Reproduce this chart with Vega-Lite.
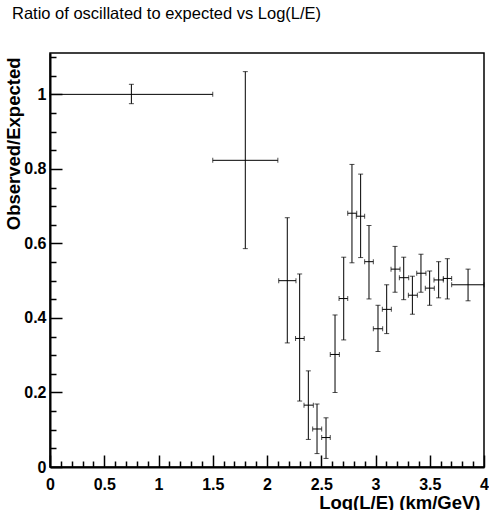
{
  "$schema": "https://vega.github.io/schema/vega-lite/v6.json",
  "width": 434,
  "height": 414,
  "autosize": {"type": "none"},
  "padding": {"left": 50, "top": 53, "right": 5, "bottom": 43},
  "background": "white",
  "title": {
    "text": "Ratio of oscillated to expected vs Log(L/E)",
    "anchor": "start",
    "frame": "group",
    "dx": -38,
    "offset": 27,
    "font": "Liberation Sans",
    "fontSize": 16.5,
    "fontWeight": "normal",
    "color": "black"
  },
  "config": {
    "view": {"stroke": "black", "strokeWidth": 1.5},
    "axis": {
      "domainColor": "black",
      "domainWidth": 2,
      "ticks": true,
      "tickColor": "black",
      "tickWidth": 1.5,
      "tickOpacity": 1,
      "grid": false,
      "labelFont": "Liberation Sans",
      "labelFontWeight": "bold",
      "labelFontSize": 16,
      "labelColor": "black",
      "titleFont": "Liberation Sans",
      "titleFontWeight": "bold",
      "titleFontSize": 18.5,
      "titleColor": "black",
      "labelOverlap": false,
      "labelFlush": false,
      "labelBound": false
    }
  },
  "data": {
    "values": [
      {"x": 0.75, "xlo": 0.0, "xhi": 1.5, "y": 1.0, "ylo": 0.975, "yhi": 1.027},
      {"x": 1.8, "xlo": 1.5, "xhi": 2.1, "y": 0.823, "ylo": 0.586, "yhi": 1.061},
      {"x": 2.187, "xlo": 2.108, "xhi": 2.267, "y": 0.5, "ylo": 0.333, "yhi": 0.669},
      {"x": 2.301, "xlo": 2.263, "xhi": 2.343, "y": 0.345, "ylo": 0.177, "yhi": 0.518},
      {"x": 2.381, "xlo": 2.341, "xhi": 2.427, "y": 0.166, "ylo": 0.074, "yhi": 0.258},
      {"x": 2.461, "xlo": 2.421, "xhi": 2.504, "y": 0.102, "ylo": 0.036, "yhi": 0.169},
      {"x": 2.544, "xlo": 2.504, "xhi": 2.583, "y": 0.079, "ylo": 0.023, "yhi": 0.132},
      {"x": 2.627, "xlo": 2.583, "xhi": 2.667, "y": 0.302, "ylo": 0.2, "yhi": 0.408},
      {"x": 2.707, "xlo": 2.664, "xhi": 2.744, "y": 0.452, "ylo": 0.341, "yhi": 0.563},
      {"x": 2.783, "xlo": 2.744, "xhi": 2.827, "y": 0.681, "ylo": 0.548, "yhi": 0.812},
      {"x": 2.863, "xlo": 2.823, "xhi": 2.9, "y": 0.673, "ylo": 0.562, "yhi": 0.786},
      {"x": 2.94, "xlo": 2.9, "xhi": 2.98, "y": 0.551, "ylo": 0.451, "yhi": 0.648},
      {"x": 3.023, "xlo": 2.98, "xhi": 3.066, "y": 0.371, "ylo": 0.31, "yhi": 0.434},
      {"x": 3.103, "xlo": 3.063, "xhi": 3.146, "y": 0.423, "ylo": 0.358, "yhi": 0.489},
      {"x": 3.18, "xlo": 3.143, "xhi": 3.226, "y": 0.531, "ylo": 0.469, "yhi": 0.592},
      {"x": 3.26, "xlo": 3.22, "xhi": 3.306, "y": 0.508, "ylo": 0.449, "yhi": 0.563},
      {"x": 3.34, "xlo": 3.303, "xhi": 3.386, "y": 0.461, "ylo": 0.41, "yhi": 0.512},
      {"x": 3.419, "xlo": 3.38, "xhi": 3.465, "y": 0.52, "ylo": 0.469, "yhi": 0.571},
      {"x": 3.499, "xlo": 3.459, "xhi": 3.542, "y": 0.48, "ylo": 0.434, "yhi": 0.526},
      {"x": 3.582, "xlo": 3.539, "xhi": 3.625, "y": 0.502, "ylo": 0.454, "yhi": 0.551},
      {"x": 3.662, "xlo": 3.625, "xhi": 3.702, "y": 0.506, "ylo": 0.451, "yhi": 0.559},
      {"x": 3.853, "xlo": 3.702, "xhi": 4.0, "y": 0.489, "ylo": 0.446, "yhi": 0.531}
    ]
  },
  "encoding": {
    "x": {
      "type": "quantitative",
      "scale": {"domain": [0, 4], "nice": false, "zero": false},
      "axis": {
        "title": "Log(L/E) (km/GeV)",
        "values": [0,0.1,0.2,0.3,0.4,0.5,0.6,0.7,0.8,0.9,1,1.1,1.2,1.3,1.4,1.5,1.6,1.7,1.8,1.9,2,2.1,2.2,2.3,2.4,2.5,2.6,2.7,2.8,2.9,3,3.1,3.2,3.3,3.4,3.5,3.6,3.7,3.8,3.9,4],
        "tickSize": -12,
        "tickDash": {"condition": {"test": "abs(round(datum.value*2) - datum.value*2) < 1e-6", "value": [20, 1]}, "value": [6, 20]},
        "labelExpr": "abs(round(datum.value*2) - datum.value*2) < 1e-6 ? format(datum.value, '~g') : ''",
        "labelOverlap": false,
        "labelPadding": 21,
        "labelBaseline": "top",
        "titleX": 430,
        "titleY": 41,
        "titleAlign": "right",
        "titleBaseline": "alphabetic",
        "titleAnchor": "end"
      }
    },
    "y": {
      "type": "quantitative",
      "scale": {"domain": [0, 1.111], "nice": false, "zero": false},
      "axis": {
        "title": "Observed/Expected",
        "values": [0,0.05,0.1,0.15,0.2,0.25,0.3,0.35,0.4,0.45,0.5,0.55,0.6,0.65,0.7,0.75,0.8,0.85,0.9,0.95,1,1.05,1.1],
        "tickSize": -12,
        "tickDash": {"condition": {"test": "abs(round(datum.value*5) - datum.value*5) < 1e-6", "value": [20, 1]}, "value": [6, 20]},
        "labelExpr": "abs(round(datum.value*5) - datum.value*5) < 1e-6 ? format(datum.value, '~g') : ''",
        "labelOverlap": false,
        "labelPadding": 16,
        "titleAngle": 270,
        "titleX": -31,
        "titleY": 4,
        "titleAlign": "right",
        "titleBaseline": "alphabetic",
        "titleAnchor": "end"
      }
    }
  },
  "layer": [
    {
      "mark": {"type": "rule", "color": "black", "strokeWidth": 1},
      "encoding": {
        "x": {"field": "xlo"},
        "x2": {"field": "xhi"},
        "y": {"field": "y"}
      }
    },
    {
      "mark": {"type": "rule", "color": "black", "strokeWidth": 1},
      "encoding": {
        "x": {"field": "x"},
        "y": {"field": "ylo"},
        "y2": {"field": "yhi"}
      }
    },
    {
      "mark": {"type": "tick", "orient": "horizontal", "color": "black", "thickness": 1, "size": 5},
      "encoding": {
        "x": {"field": "x"},
        "y": {"field": "ylo"}
      }
    },
    {
      "mark": {"type": "tick", "orient": "horizontal", "color": "black", "thickness": 1, "size": 5},
      "encoding": {
        "x": {"field": "x"},
        "y": {"field": "yhi"}
      }
    },
    {
      "mark": {"type": "tick", "orient": "vertical", "color": "black", "thickness": 1, "size": 5},
      "encoding": {
        "x": {"field": "xlo"},
        "y": {"field": "y"}
      }
    },
    {
      "mark": {"type": "tick", "orient": "vertical", "color": "black", "thickness": 1, "size": 5},
      "encoding": {
        "x": {"field": "xhi"},
        "y": {"field": "y"}
      }
    }
  ]
}
